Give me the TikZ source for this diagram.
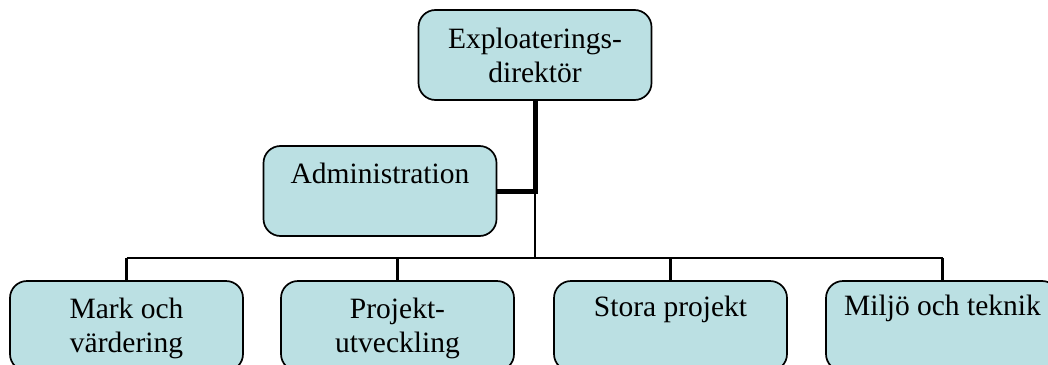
\documentclass[tikz,border=0pt]{standalone}
\usepackage{fontspec}
\setmainfont{Liberation Serif}
\definecolor{boxfill}{HTML}{BBE0E3}
\tikzset{
  orgbox/.style={draw=black, line width=1.7pt, fill=boxfill, rounded corners=17pt,
    minimum width=233pt, minimum height=90pt, inner sep=0pt},
  orgtext/.style={anchor=north, align=center, inner sep=0pt,
    font=\fontsize{29.5}{34.5}\selectfont},
  thinconn/.style={draw=black, line width=2.7pt},
  thickconn/.style={draw=black, line width=5pt}
}
\begin{document}
\begin{tikzpicture}[x=1pt,y=-1pt]
\useasboundingbox (0,0) rectangle (1048,364);
\clip (0,0) rectangle (1048,364);
\fill[white] (0,0) rectangle (1048,364);
% boxes
\node[orgbox] (top) at (535,55) {};
\node[orgbox] (admin) at (380,191) {};
\node[orgbox] (b1) at (126.5,326) {};
\node[orgbox] (b2) at (397.5,326) {};
\node[orgbox] (b3) at (670.5,326) {};
\node[orgbox] (b4) at (942.5,326) {};
% texts
\node[orgtext] (ttop) at (535,23.8) {\strut Exploaterings-\\direktör};
\node[orgtext] (tadmin) at (380,158.8) {\strut Administration};
\node[orgtext] (tb1) at (126.5,293.8) {\strut Mark och\\värdering};
\node[orgtext] (tb2) at (397.5,293.8) {\strut Projekt-\\utveckling};
\node[orgtext] (tb3) at (670.5,291.8) {\strut Stora projekt};
\node[orgtext] (tb4) at (942.5,290.8) {\strut Miljö och teknik};
% connectors
\coordinate (j1) at (535,191);
\coordinate (j2) at (535,258);
\draw[thickconn] (top.south) -- (j1) -- (admin.east);
\draw[thinconn] (j1) -- (j2);
\draw[thinconn] (b1.north |- j2) -- (b4.north |- j2);
\draw[thinconn] (b1.north |- j2) -- (b1.north);
\draw[thinconn] (b2.north |- j2) -- (b2.north);
\draw[thinconn] (b3.north |- j2) -- (b3.north);
\draw[thinconn] (b4.north |- j2) -- (b4.north);
\end{tikzpicture}
\end{document}
